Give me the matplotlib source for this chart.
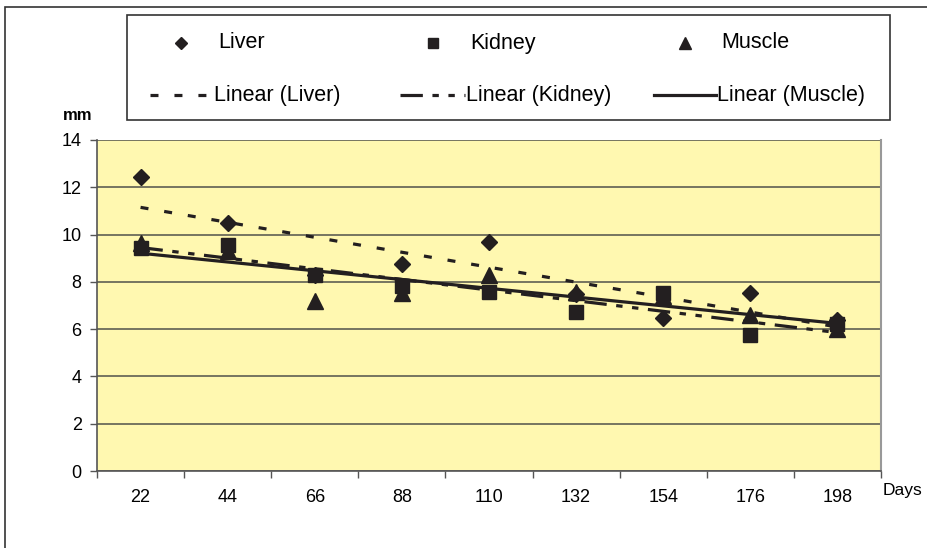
import numpy as np
import matplotlib
matplotlib.use('Agg')
import matplotlib.pyplot as plt
from matplotlib.patches import Rectangle
from matplotlib.lines import Line2D

plt.rcParams['font.family'] = ['Liberation Sans', 'DejaVu Sans']

days = [22, 44, 66, 88, 110, 132, 154, 176, 198]
liver = [12.44, 10.49, 8.3, 8.76, 9.69, 7.5, 6.47, 7.53, 6.4]
kidney = [9.43, 9.56, 8.29, 7.83, 7.57, 6.72, 7.53, 5.75, 6.2]
muscle = [9.65, 9.3, 7.2, 7.53, 8.29, 7.57, 7.4, 6.6, 6.0]
yticks = [0, 2, 4, 6, 8, 10, 12, 14]

W, H = 928, 548
fig = plt.figure(figsize=(W / 100, H / 100), dpi=100)
ax = fig.add_axes([97 / W, 1 - 471 / H, (881 - 97) / W, (471 - 140) / H])
ax.set_facecolor('#fff8b0')

x = np.arange(1, len(days) + 1)
ink = '#231f20'

# trendlines (least squares on category index, like the spreadsheet)
styles = {
    'Liver': dict(dashes=(2.5, 5)),
    'Kidney': dict(dashes=(7, 3, 2, 3, 2, 3)),
    'Muscle': dict(linestyle='-'),
}
for name, vals in [('Liver', liver), ('Kidney', kidney), ('Muscle', muscle)]:
    k, b = np.polyfit(x, vals, 1)
    ax.plot(x, k * x + b, color=ink, lw=2.3, zorder=3, **styles[name])

ax.plot(x, liver, 'D', color=ink, ms=8, zorder=4, clip_on=False)
ax.plot(x, kidney, 's', color=ink, ms=9.5, zorder=4, clip_on=False)
ax.plot(x, muscle, '^', color=ink, ms=11, zorder=4, clip_on=False)

ax.set_xlim(0.5, len(days) + 0.5)
ax.set_ylim(0, 14)
ax.set_yticks(yticks)
ax.yaxis.grid(True, color='#6b6b5a', lw=1.3)
ax.set_axisbelow(True)

ax.set_xticks(x)
ax.set_xticklabels([str(d) for d in days])
ax.set_xticks(np.arange(0.5, len(days) + 1), minor=True)
ax.tick_params(axis='x', which='major', length=0, pad=13, labelsize=13)
ax.tick_params(axis='x', which='minor', length=5, width=1, color='#555555', direction='out')
ax.tick_params(axis='y', length=5, width=1, color='#555555', pad=6, labelsize=13)

ax.spines['top'].set_visible(False)
ax.spines['right'].set_color('#999999')
ax.spines['right'].set_linewidth(1.5)
ax.spines['left'].set_color('#555555')
ax.spines['bottom'].set_color('#555555')
ax.spines['left'].set_linewidth(1.2)
ax.spines['bottom'].set_linewidth(1.2)

fig.text(63 / W, 1 - 116 / H, 'mm', fontsize=12, fontweight='bold', va='center', ha='left')
fig.text(883 / W, 1 - 491 / H, 'Days', fontsize=12.5, va='center', ha='left')

# outer chart frame
fig.patches.append(Rectangle((5 / W, -0.2), 1.2, 0.2 + (1 - 7 / H), transform=fig.transFigure,
                             fill=False, edgecolor='#333333', lw=1.2))

# legend box
fig.patches.append(Rectangle((127 / W, 1 - 120 / H), (890 - 127) / W, (120 - 15) / H,
                             transform=fig.transFigure, fill=False, edgecolor='#333333', lw=1.2))
marker_rows = [('D', 7, 'Liver', 181, 218), ('s', 8.5, 'Kidney', 433, 470), ('^', 10, 'Muscle', 685, 721)]
for m, ms, lab, mx, tx in marker_rows:
    fig.lines.append(Line2D([mx / W], [1 - 43 / H], marker=m, ms=ms * 0.9, color=ink,
                            linestyle='none', transform=fig.transFigure))
    fig.text(tx / W, 1 - 43 / H, lab, fontsize=15.5, va='center', ha='left')
line_rows = [('Liver', 150, 213), ('Kidney', 400, 465), ('Muscle', 654, 716)]
for lab, x0, x1 in line_rows:
    fig.lines.append(Line2D([x0 / W, x1 / W], [1 - 95 / H] * 2, color=ink, lw=2.3,
                            transform=fig.transFigure, **styles[lab]))
    fig.text((x1 + 1) / W, 1 - 95 / H, 'Linear (%s)' % lab, fontsize=15.5, va='center', ha='left')

fig.savefig('out.png', dpi=100)
